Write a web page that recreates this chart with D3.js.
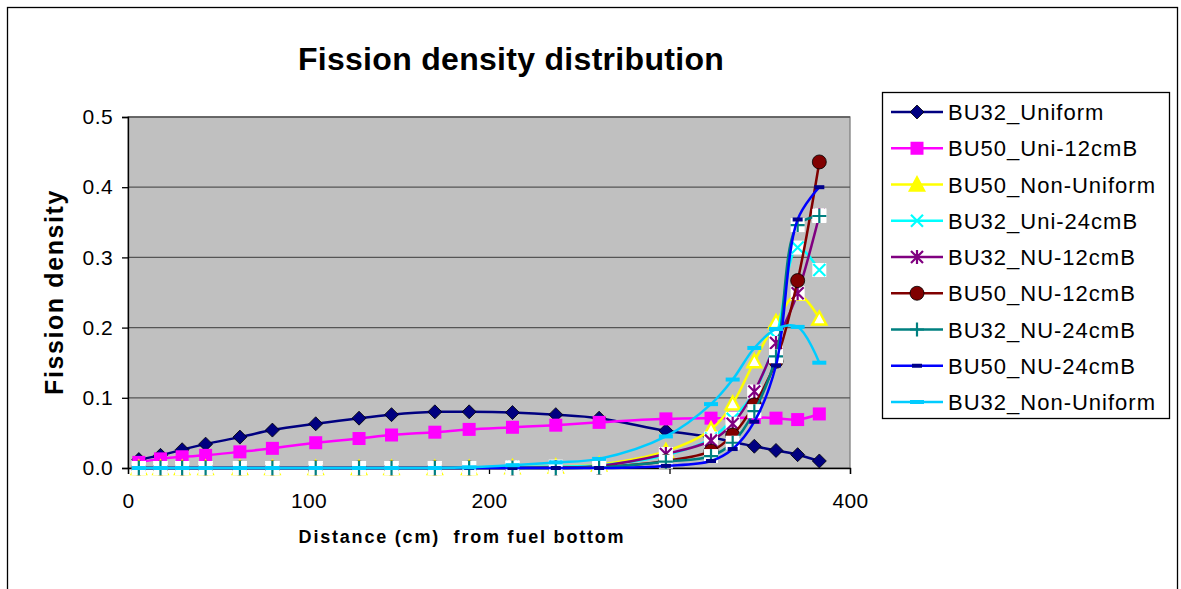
<!DOCTYPE html>
<html>
<head>
<meta charset="utf-8">
<script src="https://cdn.jsdelivr.net/npm/d3@7"></script>
<style>
  body { margin: 0; background: #fff; }
  text { font-family: Arial, "Liberation Sans", sans-serif; }
</style>
</head>
<body>
<div id="chart"></div>
<script>
// distance from fuel bottom (cm)
const distance = [6, 18, 30, 43, 62, 80, 104, 128, 146, 170, 189, 213, 237, 261, 298, 323, 335, 347, 359, 371, 383];

const seriesNames = ['BU32_Uniform', 'BU50_Uni-12cmB', 'BU50_Non-Uniform', 'BU32_Uni-24cmB',
  'BU32_NU-12cmB', 'BU50_NU-12cmB', 'BU32_NU-24cmB', 'BU50_NU-24cmB', 'BU32_Non-Uniform'];

const bu32Uniform   = [0.012, 0.018, 0.026, 0.034, 0.044, 0.054, 0.063, 0.071, 0.076, 0.080, 0.080, 0.079, 0.076, 0.071, 0.053, 0.044, 0.037, 0.031, 0.025, 0.019, 0.010];
const bu50Uni12     = [0.008, 0.013, 0.016, 0.018, 0.023, 0.028, 0.036, 0.042, 0.047, 0.051, 0.055, 0.058, 0.061, 0.065, 0.070, 0.071, 0.071, 0.072, 0.071, 0.069, 0.077];
const bu50NonUni    = [0, 0, 0, 0, 0, 0, 0, 0, 0, 0, 0, 0.001, 0.002, 0.005, 0.024, 0.055, 0.092, 0.152, 0.208, 0.248, 0.213];
const bu32Uni24     = [0, 0, 0, 0, 0, 0, 0, 0, 0, 0, 0, 0.001, 0.002, 0.004, 0.018, 0.042, 0.070, 0.108, 0.185, 0.314, 0.282];
const bu32NU12      = [0, 0, 0, 0, 0, 0, 0, 0, 0, 0, 0, 0, 0.001, 0.003, 0.020, 0.039, 0.063, 0.109, 0.178, 0.249, 0.360];
const bu50NU12      = [0, 0, 0, 0, 0, 0, 0, 0, 0, 0, 0, 0, 0, 0.001, 0.010, 0.024, 0.047, 0.090, 0.152, 0.267, 0.436];
const bu32NU24      = [0, 0, 0, 0, 0, 0, 0, 0, 0, 0, 0, 0, 0, 0.001, 0.009, 0.017, 0.036, 0.081, 0.159, 0.346, 0.359];
const bu50NU24      = [0, 0, 0, 0, 0, 0, 0, 0, 0, 0, 0, 0, 0, 0, 0.003, 0.010, 0.027, 0.066, 0.146, 0.354, 0.400];
const bu32NonUni    = [0, 0, 0, 0, 0, 0, 0, 0, 0, 0, 0.001, 0.004, 0.008, 0.013, 0.045, 0.091, 0.126, 0.171, 0.198, 0.201, 0.150];

const yTicks = [0, 0.1, 0.2, 0.3, 0.4, 0.5];
const xTicks = [0, 100, 200, 300, 400];

const allValues = [bu32Uniform, bu50Uni12, bu50NonUni, bu32Uni24, bu32NU12, bu50NU12, bu32NU24, bu50NU24, bu32NonUni];
const colors = ['#000080', '#FF00FF', '#FFFF00', '#00FFFF', '#800080', '#800000', '#008080', '#0000FF', '#00CCFF'];
const markers = ['diamond', 'square', 'triangle', 'x', 'star', 'circle', 'plus', 'dash', 'wdash'];

const series = seriesNames.map((name, i) => ({
  name: name,
  color: colors[i],
  marker: markers[i],
  values: distance.map((d, j) => ({ x: d, y: allValues[i][j] }))
}));

const W = 1181, H = 589;
const svg = d3.select('#chart').append('svg').attr('width', W).attr('height', H);

// outer chart border
svg.append('rect')
  .attr('x', 7.5).attr('y', 7.5).attr('width', 1170).attr('height', 620)
  .attr('fill', '#fff').attr('stroke', '#000').attr('stroke-width', 1.3);

const x = d3.scaleLinear().domain([0, 400]).range([128, 850]);
const y = d3.scaleLinear().domain([0, 0.5]).range([468, 117]);

// plot area
svg.append('rect')
  .attr('x', x(0)).attr('y', y(0.5))
  .attr('width', x(400) - x(0)).attr('height', y(0) - y(0.5))
  .attr('fill', '#C0C0C0').attr('stroke', '#808080').attr('stroke-width', 1.3);

svg.append('g').selectAll('line')
  .data(yTicks.filter(d => d > 0))
  .join('line')
  .attr('x1', x(0)).attr('x2', x(400))
  .attr('y1', d => y(d)).attr('y2', d => y(d))
  .attr('stroke', '#555').attr('stroke-width', 1.3);

// axes
const axisY = d3.axisLeft(y).tickValues(yTicks).tickFormat(d3.format('.1f')).tickSize(6).tickPadding(9);
const axisX = d3.axisBottom(x).tickValues(xTicks).tickSize(6).tickPadding(19);

const gy = svg.append('g').attr('transform', `translate(${x(0)},0)`).call(axisY);
const gx = svg.append('g').attr('transform', `translate(0,${y(0)})`).call(axisX);
[gx, gy].forEach(g => {
  g.select('.domain').attr('stroke', '#000').attr('stroke-width', 1.3);
  g.selectAll('.tick line').attr('stroke', '#000').attr('stroke-width', 1.3);
  g.selectAll('text')
    .style('font-family', 'Arial, "Liberation Sans", sans-serif')
    .style('font-size', '21px')
    .style('letter-spacing', '0.4px')
    .attr('fill', '#000');
});

// marker drawing
function drawMarker(g, type, color, legend) {
  if (type === 'diamond') {
    g.append('path').attr('d', 'M0,-7L7,0L0,7L-7,0Z').attr('fill', color).attr('stroke', '#000').attr('stroke-width', 0.8);
  } else if (type === 'square') {
    g.append('rect').attr('x', -6.5).attr('y', -6.5).attr('width', 13).attr('height', 13).attr('fill', color);
  } else if (type === 'triangle') {
    g.append('path').attr('d', 'M0,-7L7,6L-7,6Z')
      .attr('fill', legend ? color : '#fff').attr('stroke', color).attr('stroke-width', 2.4);
  } else if (type === 'x' || type === 'star' || type === 'plus') {
    if (!legend) {
      g.append('rect').attr('x', -7).attr('y', -7).attr('width', 14).attr('height', 14).attr('fill', '#fff');
    }
    let d = '';
    if (type === 'x' || type === 'star') d += 'M-6,-6L6,6M-6,6L6,-6';
    if (type === 'star') d += 'M0,-7L0,7';
    if (type === 'plus') d += 'M-7,0L7,0M0,-7L0,7';
    g.append('path').attr('d', d).attr('stroke', color).attr('stroke-width', 2.2).attr('fill', 'none');
  } else if (type === 'circle') {
    g.append('circle').attr('r', 7).attr('fill', color).attr('stroke', '#000').attr('stroke-width', 0.8);
  } else if (type === 'dash') {
    g.append('rect').attr('x', -5).attr('y', -2).attr('width', 10).attr('height', 4).attr('fill', '#00008B');
  } else if (type === 'wdash') {
    g.append('rect').attr('x', -7).attr('y', -2).attr('width', 14).attr('height', 4).attr('fill', color);
  }
}

const line = d3.line()
  .x(d => x(d.x))
  .y(d => y(d.y))
  .curve(d3.curveCatmullRom.alpha(0.5));

series.forEach(s => {
  const g = svg.append('g').attr('class', 'series');
  g.append('path')
    .attr('d', line(s.values))
    .attr('fill', 'none')
    .attr('stroke', s.color)
    .attr('stroke-width', 2.5);
  g.selectAll('g.pt')
    .data(s.values)
    .join('g')
    .attr('class', 'pt')
    .attr('transform', d => `translate(${x(d.x)},${y(d.y)})`)
    .each(function() { drawMarker(d3.select(this), s.marker, s.color, false); });
});

// title and axis labels
svg.append('text')
  .attr('x', 511).attr('y', 70)
  .attr('text-anchor', 'middle')
  .style('font-size', '32px').style('font-weight', 'bold')
  .style('letter-spacing', '0.3px')
  .text('Fission density distribution');

svg.append('text')
  .attr('x', 462).attr('y', 543)
  .attr('text-anchor', 'middle')
  .style('font-size', '18px').style('font-weight', 'bold')
  .style('letter-spacing', '1.8px')
  .style('white-space', 'pre')
  .text('Distance (cm)  from fuel bottom');

svg.append('text')
  .attr('transform', 'translate(63,292) rotate(-90)')
  .attr('text-anchor', 'middle')
  .style('font-size', '25px').style('font-weight', 'bold')
  .style('letter-spacing', '1.6px')
  .text('Fission density');

// legend
const legend = svg.append('g');
legend.append('rect')
  .attr('x', 882.5).attr('y', 92.5).attr('width', 287).attr('height', 326)
  .attr('fill', '#fff').attr('stroke', '#000').attr('stroke-width', 1.3);

series.forEach((s, i) => {
  const ly = 112 + i * 36.25;
  const row = legend.append('g');
  row.append('line')
    .attr('x1', 891).attr('x2', 943).attr('y1', ly).attr('y2', ly)
    .attr('stroke', s.color).attr('stroke-width', 2.5);
  drawMarker(row.append('g').attr('transform', `translate(917,${ly})`), s.marker, s.color, true);
  row.append('text')
    .attr('x', 948).attr('y', ly + 8)
    .style('font-size', '22px')
    .style('letter-spacing', '1px')
    .text(s.name);
});
</script>
</body>
</html>
